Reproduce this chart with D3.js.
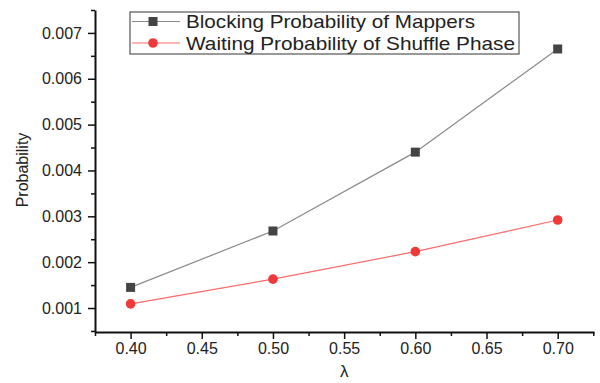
<!DOCTYPE html>
<html>
<head>
<meta charset="utf-8">
<script src="https://cdn.jsdelivr.net/npm/d3@7"></script>
<style>
  body { margin: 0; background: #fff; }
  text { font-family: Arial, "Liberation Sans", sans-serif; fill: #222; }
</style>
</head>
<body>
<div id="chart"></div>
<script>
// data
var lambdas = [0.40, 0.50, 0.60, 0.70];
var blocking = [0.00145, 0.00268, 0.0044, 0.00665];
var waiting = [0.00109, 0.00163, 0.00223, 0.00292];
var seriesNames = ["Blocking Probability of Mappers", "Waiting Probability of Shuffle Phase"];
var xTicks = [0.40, 0.45, 0.50, 0.55, 0.60, 0.65, 0.70];
var yTicks = [0.001, 0.002, 0.003, 0.004, 0.005, 0.006, 0.007];

var svgWidth = 600;
var svgHeight = 383;
var margin = { top: 10, right: 6, bottom: 51, left: 95 };
var width = svgWidth - margin.left - margin.right;
var height = svgHeight - margin.top - margin.bottom;

var svg = d3.select("#chart")
    .append("svg")
    .attr("width", svgWidth)
    .attr("height", svgHeight);

var chartGroup = svg.append("g")
    .attr("transform", `translate(${margin.left}, ${margin.top})`);

var xScale = d3.scaleLinear()
    .domain([0.375, 0.7255])
    .range([0, width]);

var yScale = d3.scaleLinear()
    .domain([0.000477, 0.0075])
    .range([height, 0]);

// minor ticks
var xMinor = xTicks.map(d => d - 0.025).concat([0.725]);
var yMinor = yTicks.map(d => d - 0.0005).concat([0.0075]);

chartGroup.append("g")
    .attr("transform", `translate(0, ${height})`)
    .call(d3.axisBottom(xScale).tickValues(xMinor).tickSize(4).tickFormat(""))
    .call(g => g.select(".domain").remove())
    .selectAll("line").attr("stroke", "#111").attr("stroke-width", 1.5);

chartGroup.append("g")
    .call(d3.axisLeft(yScale).tickValues(yMinor).tickSize(4).tickFormat(""))
    .call(g => g.select(".domain").remove())
    .selectAll("line").attr("stroke", "#111").attr("stroke-width", 1.5);

var xAxis = chartGroup.append("g")
    .attr("transform", `translate(0, ${height})`)
    .call(d3.axisBottom(xScale).tickValues(xTicks).tickSize(7).tickSizeOuter(0)
        .tickPadding(4).tickFormat(d3.format(".2f")));

var yAxis = chartGroup.append("g")
    .call(d3.axisLeft(yScale).tickValues(yTicks).tickSize(7).tickSizeOuter(0)
        .tickPadding(6).tickFormat(d3.format(".3f")));

[xAxis, yAxis].forEach(function(ax) {
    ax.select(".domain").attr("stroke", "#111").attr("stroke-width", 2);
    ax.selectAll(".tick line").attr("stroke", "#111").attr("stroke-width", 1.5);
    ax.selectAll(".tick text")
        .attr("font-size", "16px")
        .attr("fill", "#222")
        .style("font-family", "Arial, 'Liberation Sans', sans-serif");
});

// axis titles
chartGroup.append("text")
    .attr("transform", `translate(${22 - margin.left}, ${height / 2 - 1}) rotate(-90)`)
    .attr("text-anchor", "middle")
    .attr("dy", "0.35em")
    .attr("font-size", "16px")
    .text("Probability");

chartGroup.append("text")
    .attr("x", xScale(0.55))
    .attr("y", height + 45)
    .attr("text-anchor", "middle")
    .attr("font-size", "17px")
    .text("λ");

var line = d3.line()
    .x(d => xScale(d[0]))
    .y(d => yScale(d[1]));

var blockData = lambdas.map((d, i) => [d, blocking[i]]);
var waitData = lambdas.map((d, i) => [d, waiting[i]]);

chartGroup.append("path")
    .datum(blockData)
    .attr("d", line)
    .attr("fill", "none")
    .attr("stroke", "#8a8a8a")
    .attr("stroke-width", 1.2);

chartGroup.append("path")
    .datum(waitData)
    .attr("d", line)
    .attr("fill", "none")
    .attr("stroke", "#ff6b6b")
    .attr("stroke-width", 1.2);

chartGroup.selectAll(".sq")
    .data(blockData)
    .enter()
    .append("rect")
    .attr("x", d => xScale(d[0]) - 4.5)
    .attr("y", d => yScale(d[1]) - 4.5)
    .attr("width", 9)
    .attr("height", 9)
    .attr("fill", "#444");

chartGroup.selectAll(".dot")
    .data(waitData)
    .enter()
    .append("circle")
    .attr("cx", d => xScale(d[0]))
    .attr("cy", d => yScale(d[1]))
    .attr("r", 4.8)
    .attr("fill", "#f03a3a");

// legend
var legend = svg.append("g").attr("transform", "translate(130, 12)");
legend.append("rect")
    .attr("width", 389)
    .attr("height", 42)
    .attr("fill", "#fff")
    .attr("stroke", "#555")
    .attr("stroke-width", 1.2);

var legendColors = [["#8a8a8a", "#444"], ["#ff6b6b", "#f03a3a"]];
var legendWidths = [289, 329];
seriesNames.forEach(function(name, i) {
    var y = 9.5 + i * 21.5;
    var row = legend.append("g").attr("transform", `translate(0, ${y})`);
    row.append("line")
        .attr("x1", 2).attr("x2", 50)
        .attr("stroke", legendColors[i][0])
        .attr("stroke-width", 1.2);
    if (i === 0) {
        row.append("rect")
            .attr("x", 23 - 4.5).attr("y", -4.5)
            .attr("width", 9).attr("height", 9)
            .attr("fill", legendColors[i][1]);
    } else {
        row.append("circle")
            .attr("cx", 23).attr("r", 4.8)
            .attr("fill", legendColors[i][1]);
    }
    row.append("text")
        .attr("x", 56)
        .attr("dy", "0.36em")
        .attr("font-size", "19px")
        .attr("textLength", legendWidths[i])
        .attr("lengthAdjust", "spacingAndGlyphs")
        .text(name);
});
</script>
</body>
</html>
